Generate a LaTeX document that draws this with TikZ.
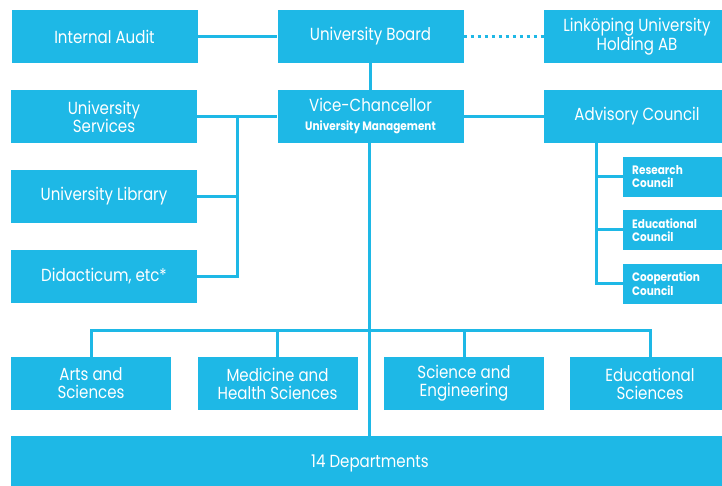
\documentclass[tikz,border=0pt]{standalone}
\usepackage{fontspec}
\setmainfont{Poppins}[FakeStretch=0.86]
\usepackage{tikz}

\begin{document}
\begin{tikzpicture}[x=1pt, y=-1pt,
    every node/.style={fill=liuBlue, text=white, minimum height=53pt, inner sep=0pt, align=center, font=\fontsize{17.5}{18}\selectfont},
    council/.style={minimum height=40pt, minimum width=104pt, anchor=west, align=left, text width=86pt, font=\fontsize{12.2}{13}\bfseries\selectfont},
    link/.style={draw=liuBlue, line width=3pt}]
  \definecolor{liuBlue}{RGB}{30,184,230}
  \clip (0,0) rectangle (722,486);

  % top rows
  \node[minimum width=186pt] (audit)    at (104.5,36.5)  {Internal Audit};
  \node[minimum width=186pt] (board)    at (370.5,36.5)  {University Board};
  \node[minimum width=186pt] (holding)  at (637,36.5)    {Linköping University\\Holding AB};
  \node[minimum width=186pt] (services) at (104,116.5)   {University\\Services};
  \node[minimum width=186pt] (vc)       at (370.5,116.5) {Vice-Chancellor\\[1pt]{\fontsize{12.2}{13}\bfseries\selectfont University Management}};
  \node[minimum width=186pt] (advisory) at (637,116.5)   {Advisory Council};
  \node[minimum width=186pt] (library)  at (104,196.5)   {University Library};
  \node[minimum width=186pt] (didact)   at (104,276.5)   {Didacticum, etc*};

  % councils under the advisory council
  \node[council] (research) at (623,177)   {Research\\Council};
  \node[council] (educ)     at (623,230)   {Educational\\Council};
  \node[council] (coop)     at (623,283.5) {Cooperation\\Council};

  % faculties
  \node[minimum width=160pt] (arts)     at (91,383.5)  {Arts and\\Sciences};
  \node[minimum width=160pt] (medicine) at (277.5,383.5) {Medicine and\\Health Sciences};
  \node[minimum width=160pt] (science)  at (464,383.5) {Science and\\Engineering};
  \node[minimum width=160pt] (eduSci)   at (650,383.5) {Educational\\Sciences};

  \node[minimum width=720pt, minimum height=54pt, anchor=north west] (depts) at (11,436) {};
  \node[fill=none] at (370,463) {14 Departments};

  \coordinate (lbus) at (237,0);
  \coordinate (rbus) at (596,0);
  \coordinate (fbus) at (0,330);

  \draw[link] (audit) -- (board);
  \draw[link, dash pattern=on 3pt off 4pt] (board) -- (holding);
  \draw[link] (board) -- (vc);
  \draw[link] (services) -- (vc);
  \draw[link] (vc) -- (advisory);

  % services, library and didacticum
  \draw[link] (lbus |- services.east) -- (lbus |- didact.east) -- (didact.east);
  \draw[link] (library.east) -- (lbus |- library.east);

  % councils
  \draw[link] (rbus |- advisory.south) -- (rbus |- coop.west) -- (coop.west);
  \draw[link] (rbus |- research.west) -- (research.west);
  \draw[link] (rbus |- educ.west) -- (educ.west);

  % down to faculties and departments
  \draw[link] (vc.south -| 369,0) -- (depts.north -| 369,0);
  \draw[link] (arts.north) -- (arts.north |- fbus) -- (eduSci.north |- fbus) -- (eduSci.north);
  \draw[link] (medicine.north) -- (medicine.north |- fbus);
  \draw[link] (science.north) -- (science.north |- fbus);
\end{tikzpicture}
\end{document}
